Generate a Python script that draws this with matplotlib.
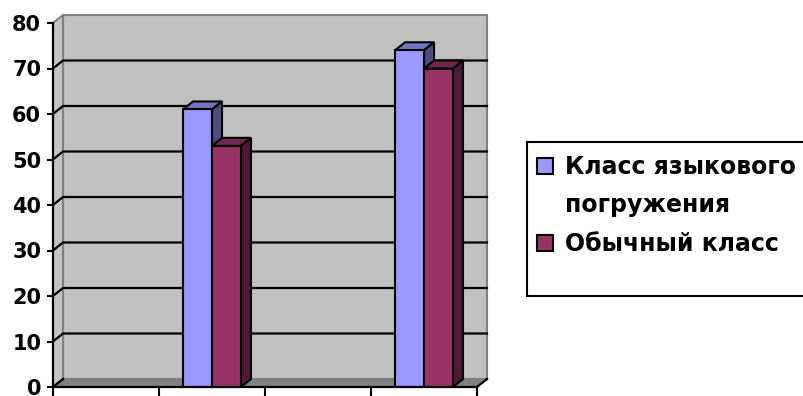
import numpy as np
import matplotlib
matplotlib.use("Agg")
import matplotlib.pyplot as plt
from matplotlib.patches import Rectangle, Polygon

plt.rcParams['font.family'] = ['DejaVu Sans']

# ---- data ----
categories = ['1', '2', '3', '4']
series_names = ['Класс языкового\nпогружения', 'Обычный класс']
immersion = [np.nan, 61, np.nan, 74]
regular = [np.nan, 53, np.nan, 70]
y_ticks = [0, 10, 20, 30, 40, 50, 60, 70, 80]

front_colors = ['#9999FF', '#993366']
top_colors = ['#7373C0', '#73264D']
side_colors = ['#4D4D80', '#4D1A33']

W_PX, H_PX = 804, 396
fig = plt.figure(figsize=(W_PX / 100, H_PX / 100), dpi=100)
ax_l, ax_b, ax_w, ax_h = 53, 9, 424, 364
ax = fig.add_axes([ax_l / W_PX, ax_b / H_PX, ax_w / W_PX, ax_h / H_PX])
ncat = len(categories)
ax.set_xlim(0, ncat)
ax.set_ylim(0, 80)
ax.patch.set_visible(False)

# depth offset in data units
DX = 10 / (ax_w / ncat)
DY = 8 / (ax_h / 80)

wall = '#C0C0C0'
edge = '#808080'
# back wall
ax.add_patch(Rectangle((DX, DY), ncat, 80, facecolor=wall, edgecolor=edge,
                       lw=1.5, clip_on=False, zorder=0))
# left wall
ax.add_patch(Polygon([(0, 0), (DX, DY), (DX, 80 + DY), (0, 80)], closed=True,
                     facecolor='#C4C4C4', edgecolor=edge, lw=1.5, clip_on=False, zorder=0.5))
# floor
ax.add_patch(Polygon([(0, 0), (ncat, 0), (ncat + DX, DY), (DX, DY)], closed=True,
                     facecolor='#808080', edgecolor='#808080', lw=1, clip_on=False, zorder=1))

# gridlines
for v in y_ticks[:-1]:
    if v == 0:
        ax.plot([0, DX], [0, DY], color='black', lw=1.6, clip_on=False, zorder=1.2)
    else:
        ax.plot([0, DX, ncat + DX], [v, v + DY, v + DY], color='black', lw=1.6,
                clip_on=False, zorder=1.2)
# right floor edge
ax.plot([ncat, ncat + DX], [0, DY], color='black', lw=1.6, clip_on=False, zorder=1.3)

# bars
BW = 29 / (ax_w / ncat)
x = np.arange(ncat) + 0.5
for si, vals in enumerate([immersion, regular]):
    lefts = x - BW + si * BW
    z = 3 + si
    ax.bar(lefts, vals, width=BW, align='edge', color=front_colors[si],
           edgecolor='black', lw=1.5, zorder=z + 0.2)
    for L, h in zip(lefts, vals):
        if np.isnan(h):
            continue
        R = L + BW
        ax.add_patch(Polygon([(L, h), (R, h), (R + DX, h + DY), (L + DX, h + DY)],
                             closed=True, facecolor=top_colors[si], edgecolor='black',
                             lw=1.5, zorder=z, clip_on=False))
        ax.add_patch(Polygon([(R, 0), (R + DX, DY), (R + DX, h + DY), (R, h)],
                             closed=True, facecolor=side_colors[si], edgecolor='black',
                             lw=1.5, zorder=z, clip_on=False))

# axes
for s in ['top', 'right']:
    ax.spines[s].set_visible(False)
for s in ['left', 'bottom']:
    ax.spines[s].set_linewidth(1.6)
    ax.spines[s].set_color('black')
    ax.spines[s].set_zorder(6)
ax.set_yticks(y_ticks)
ax.set_yticklabels([str(t) for t in y_ticks], fontsize=15, fontweight='bold')
ax.set_xticks(np.arange(ncat + 1))
ax.set_xticklabels([''] * (ncat + 1))
ax.tick_params(axis='y', length=4.5, width=1.5, pad=4)
ax.tick_params(axis='x', length=7, width=1.5)

# legend (manual)
fig.add_artist(Rectangle((527 / W_PX, (H_PX - 296) / H_PX), 1.0, (296 - 142) / H_PX,
                         transform=fig.transFigure, facecolor='white', edgecolor='black',
                         lw=1.5, zorder=0))
leg_baselines = [(174.3, 211.7), (251,)]
for si, name in enumerate(series_names):
    lines = name.split('\n')
    ys = leg_baselines[si]
    fig.add_artist(Rectangle((537 / W_PX, (H_PX - ys[0]) / H_PX), 16 / W_PX, 16.5 / H_PX,
                             transform=fig.transFigure, facecolor=front_colors[si],
                             edgecolor='black', lw=1.5))
    for ln, yy in zip(lines, ys):
        fig.text(565 / W_PX, (H_PX - yy) / H_PX, ln, fontsize=17, fontweight='bold',
                 va='baseline', ha='left')

fig.savefig('out.png', dpi=100)
